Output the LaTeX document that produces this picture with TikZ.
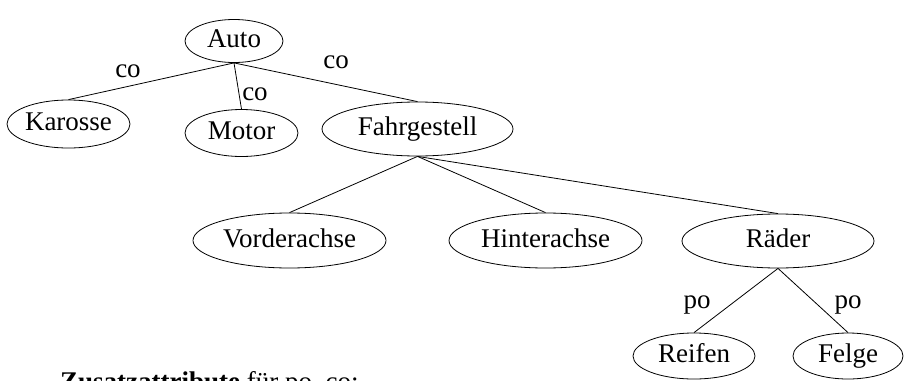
\documentclass[tikz,border=0pt]{standalone}
\usepackage{fontspec}
\setmainfont{Liberation Serif}
\usetikzlibrary{shapes.geometric}
\begin{document}
\begin{tikzpicture}[x=1pt,y=-1pt,
  every node/.style={font=\fontsize{27}{32}\selectfont},
  ell/.style={draw,ellipse,inner sep=0pt,line width=0.8pt,text height=16pt,text depth=3pt},
  lbl/.style={anchor=base,inner sep=0pt},
  conn/.style={line width=0.8pt}]
\useasboundingbox (0,0) rectangle (904,380);
\node[ell,minimum width=98pt,minimum height=43pt] (auto) at (234,41) {Auto};
\node[ell,minimum width=121pt,minimum height=48pt] (karosse) at (68.5,124) {Karosse};
\node[ell,minimum width=113pt,minimum height=47pt] (motor) at (241.5,133) {Motor};
\node[ell,minimum width=191pt,minimum height=54pt] (fahr) at (417.5,129) {Fahrgestell};
\node[ell,minimum width=193pt,minimum height=55pt] (vorder) at (289.5,240.5) {Vorderachse};
\node[ell,minimum width=193pt,minimum height=55pt] (hinter) at (545.5,240.5) {Hinterachse};
\node[ell,minimum width=192pt,minimum height=54pt] (raeder) at (778,241) {Räder};
\node[ell,minimum width=122pt,minimum height=46pt] (reifen) at (694,356) {Reifen};
\node[ell,minimum width=110pt,minimum height=46pt] (felge) at (848,356) {Felge};
\draw[conn] (auto.south) -- (karosse.north);
\draw[conn] (auto.south) -- (motor.north);
\draw[conn] (auto.south) -- (fahr.north);
\draw[conn] (fahr.south) -- (vorder.north);
\draw[conn] (fahr.south) -- (hinter.north);
\draw[conn] (fahr.south) -- (raeder.north);
\draw[conn] (raeder.south) -- (reifen.north);
\draw[conn] (raeder.south) -- (felge.north);
\node[lbl] (l1) at (128,77) {co};
\node[lbl] (l2) at (255,100) {co};
\node[lbl] (l3) at (336,68) {co};
\node[lbl] (l4) at (697,308) {po};
\node[lbl] (l5) at (848,308) {po};
\node[anchor=base west,inner sep=0pt] (zusatz) at (60,390) {\textbf{Zusatzattribute} für po, co:};
\end{tikzpicture}
\end{document}
